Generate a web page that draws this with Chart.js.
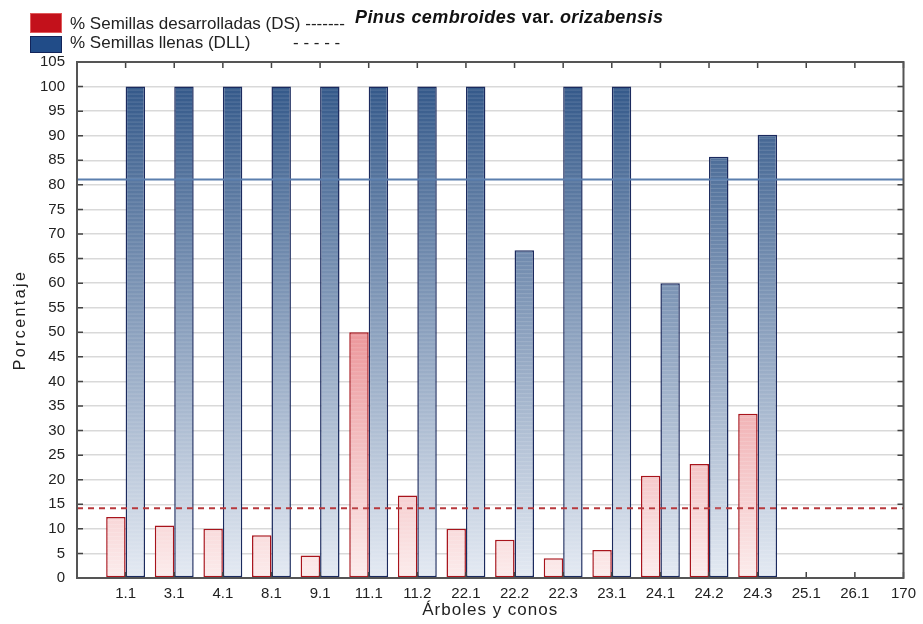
<!DOCTYPE html>
<html>
<head>
<meta charset="utf-8">
<script src="https://cdn.jsdelivr.net/npm/chart.js@4.4.1/dist/chart.umd.min.js"></script>
<style>
  body { margin: 0; background: #fff; }
  #wrap { position: relative; width: 923px; height: 624px; font-family: "Liberation Sans", Arial, sans-serif; }
  .leg { position: absolute; font-size: 17px; line-height: 20px; color: #222; white-space: nowrap; }
  .box { position: absolute; left: 30px; width: 30px; }
  #title { position: absolute; left: 355px; top: 7px; font: bold italic 18px "Liberation Sans", Arial, sans-serif; letter-spacing: 0.4px; color: #111; white-space: nowrap; }
</style>
</head>
<body>
<div id="wrap">
  <canvas id="chart"></canvas>
  <div class="box" style="top:13px;height:18px;background:#c3111b;border:1px solid #e05a5a;"></div>
  <div class="box" style="top:36px;height:15px;background:#214c88;border:1px solid #12245a;"></div>
  <div class="leg" style="left:70px;top:14px;">% Semillas desarrolladas (DS) -------</div>
  <div class="leg" style="left:70px;top:33px;">% Semillas llenas (DLL)</div>
  <div class="leg" style="left:293px;top:33px;">- - - - -</div>
  <div id="title">Pinus cembroides <span style="font-style:normal">var.</span> orizabensis</div>
</div>
<script>
const FONT = "'Liberation Sans', Arial, sans-serif";

const categories = ["", "1.1", "3.1", "4.1", "8.1", "9.1", "11.1", "11.2", "22.1", "22.2",
  "22.3", "23.1", "24.1", "24.2", "24.3", "25.1", "26.1", "170"];
const dsValues = [null, 12.4, 10.7, 10, 8.7, 4.6, 50, 16.8, 10, 7.8, 4, 5.7, 20.8, 23.2, 33.4, 0, 0, null];
const dllValues = [null, 100, 100, 100, 100, 100, 100, 100, 100, 66.7, 100, 100, 60, 85.7, 90.2, 0, 0, null];
const dsMean = 14.2;
const dllMean = 81.1;
const yTicks = { min: 0, max: 105, step: 5 };
const xTitle = "Árboles y conos";
const yTitle = "Porcentaje";

function barGradient(ctx, top, topColor, bottomColor) {
  const chart = ctx.chart;
  if (!chart.chartArea) return bottomColor;
  const y = chart.scales.y;
  const g = chart.ctx.createLinearGradient(0, y.getPixelForValue(top), 0, y.getPixelForValue(0));
  g.addColorStop(0, topColor);
  g.addColorStop(1, bottomColor);
  return g;
}

// faint horizontal banding inside the bars, like the original print
const barStripes = {
  id: "barStripes",
  afterDatasetsDraw(chart) {
    const ctx = chart.ctx;
    ctx.save();
    ctx.strokeStyle = "rgba(255,255,255,0.16)";
    ctx.lineWidth = 1;
    chart.data.datasets.forEach((ds, di) => {
      if (ds.type !== "bar") return;
      chart.getDatasetMeta(di).data.forEach((bar) => {
        const { x, y, base, width } = bar.getProps(["x", "y", "base", "width"], true);
        if (!isFinite(y) || base - y < 3) return;
        ctx.beginPath();
        for (let py = y + 3.5; py < base - 1; py += 4) {
          ctx.moveTo(x - width / 2 + 1.5, py);
          ctx.lineTo(x + width / 2 - 1.5, py);
        }
        ctx.stroke();
      });
    });
    ctx.restore();
  },
};

const frameTicks = {
  id: "frameTicks",
  afterDraw(chart) {
    const { ctx, chartArea: a, scales } = chart;
    ctx.save();
    ctx.strokeStyle = "#444";
    ctx.lineWidth = 1.5;
    ctx.beginPath();
    for (let v = yTicks.min; v <= yTicks.max; v += yTicks.step) {
      const py = scales.y.getPixelForValue(v);
      ctx.moveTo(a.left, py); ctx.lineTo(a.left + 6, py);
      ctx.moveTo(a.right, py); ctx.lineTo(a.right - 6, py);
    }
    categories.forEach((c, i) => {
      const px = scales.x.getPixelForValue(i);
      ctx.moveTo(px, a.top); ctx.lineTo(px, a.top + 6);
      ctx.moveTo(px, a.bottom); ctx.lineTo(px, a.bottom - 6);
    });
    ctx.stroke();
    ctx.strokeStyle = "#555";
    ctx.lineWidth = 2;
    ctx.strokeRect(a.left, a.top, a.right - a.left, a.bottom - a.top);

    // axis titles (spaced out like the original)
    ctx.fillStyle = "#222";
    ctx.textAlign = "center";
    ctx.textBaseline = "alphabetic";
    ctx.font = "17px " + FONT;
    ctx.letterSpacing = "1px";
    ctx.fillText(xTitle, (a.left + a.right) / 2, 615);
    ctx.translate(25, 320);
    ctx.rotate(-Math.PI / 2);
    ctx.font = "16px " + FONT;
    ctx.letterSpacing = "2.4px";
    ctx.fillText(yTitle, 0, 0);
    ctx.restore();
  },
};

new Chart(document.getElementById("chart"), {
  data: {
    labels: categories,
    datasets: [
      {
        type: "line",
        data: categories.map(() => dllMean),
        borderColor: "#5b7fae",
        borderWidth: 2,
        pointRadius: 0,
        order: 0,
      },
      {
        type: "line",
        data: categories.map(() => dsMean),
        borderColor: "#b8383c",
        borderWidth: 2,
        borderDash: [6, 5],
        pointRadius: 0,
        order: 0,
      },
      {
        type: "bar",
        data: dsValues,
        backgroundColor: (ctx) => barGradient(ctx, 50, "#ec979b", "#fcecec"),
        borderColor: "#a8141c",
        borderWidth: 1.5,
        borderSkipped: false,
        minBarLength: 1,
        categoryPercentage: 0.8,
        barPercentage: 1.0,
        order: 1,
      },
      {
        type: "bar",
        data: dllValues,
        backgroundColor: (ctx) => barGradient(ctx, 100, "#34598a", "#e4eaf3"),
        borderColor: "#1b2a5e",
        borderWidth: 1.5,
        borderSkipped: false,
        minBarLength: 1,
        categoryPercentage: 0.8,
        barPercentage: 1.0,
        order: 1,
      },
    ],
  },
  options: {
    responsive: true,
    maintainAspectRatio: false,
    animation: false,
    layout: { padding: { top: 62, right: 18, left: 0, bottom: 0 } },
    plugins: { legend: { display: false }, tooltip: { enabled: false } },
    scales: {
      x: {
        type: "category",
        offset: false,
        grid: { display: false, drawTicks: false },
        border: { display: false },
        ticks: { autoSkip: false, maxRotation: 0, padding: 7, color: "#222", font: { family: FONT, size: 15 } },
        afterFit(scale) { scale.height = 46; },
      },
      y: {
        min: yTicks.min,
        max: yTicks.max,
        grid: { color: "#d9d9d9", lineWidth: 1.5, drawTicks: false },
        border: { display: false },
        ticks: { stepSize: yTicks.step, padding: 12, color: "#222", font: { family: FONT, size: 15 } },
        afterFit(scale) { scale.width = 77; },
      },
    },
  },
  plugins: [barStripes, frameTicks],
});
</script>
</body>
</html>
